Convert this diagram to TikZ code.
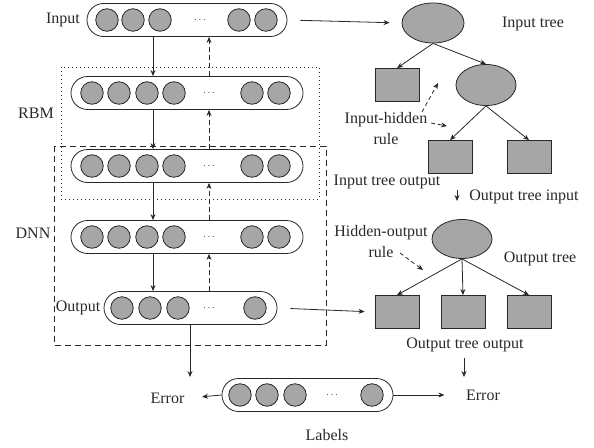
\documentclass[tikz,border=0pt]{standalone}
\usepackage{fontspec}
\setmainfont{Liberation Serif}
\usetikzlibrary{shapes.geometric,arrows.meta}
\definecolor{unitgray}{RGB}{166,166,166}
\definecolor{inkgray}{RGB}{40,40,40}

\begin{document}
\begin{tikzpicture}[x=1pt,y=-1pt,line width=0.8pt,draw=inkgray,
  every node/.style={font=\fontsize{16}{21}\selectfont,text=inkgray},
  >={Stealth[length=6pt,width=5pt]},
  layer/.style={draw,rounded corners=16.5pt,minimum height=33pt,inner sep=0pt},
  unit/.style={circle,draw,fill=unitgray,minimum size=22.5pt,inner sep=0pt},
  dots/.style={font=\fontsize{10}{12}\selectfont},
  treenode/.style={ellipse,draw,fill=unitgray,inner sep=0pt},
  leaf/.style={draw,fill=unitgray,minimum width=44pt,minimum height=33pt,inner sep=0pt},
  back/.style={dash pattern=on 5pt off 3pt},
  rulearrow/.style={->,dash pattern=on 4pt off 3pt}]
  \useasboundingbox (0,0) rectangle (594,447);

  % stacked layers
  \node[layer,minimum width=200pt] (in) at (187,20) {};
  \node[layer,minimum width=232pt] (h1) at (187,93) {};
  \node[layer,minimum width=232pt] (h2) at (187,166) {};
  \node[layer,minimum width=232pt] (h3) at (187,237) {};
  \node[layer,minimum width=173pt] (out) at (190.5,308) {};
  \node[layer,minimum width=171pt] (lab) at (307.5,395) {};

  \foreach \x [count=\i] in {107,133,160,239,266}
    \node[unit] (in-u\i) at (\x,20) {};
  \node[dots] (in-dots) at (200,20) {$\cdots$};
  \foreach \row/\y in {h1/93,h2/166,h3/237}{
    \foreach \x [count=\i] in {92,119,147,174,252,279}
      \node[unit] (\row-u\i) at (\x,\y) {};
    \node[dots] (\row-dots) at (209,\y) {$\cdots$};
  }
  \foreach \x [count=\i] in {122,150,178,255}
    \node[unit] (out-u\i) at (\x,308) {};
  \node[dots] (out-dots) at (209,308) {$\cdots$};
  \foreach \x [count=\i] in {240,267,295,372}
    \node[unit] (lab-u\i) at (\x,395) {};
  \node[dots] (lab-dots) at (332,395) {$\cdots$};

  \node (inlbl) at (63,20) {Input};
  \node (rbm) at (36,113) {RBM};
  \node (dnn) at (33,233) {DNN};
  \node (outlbl) at (78,308) {Output};
  \node (labels) at (327,435) {Labels};
  \node (errL) at (167.5,398) {Error};
  \node (errR) at (483,395) {Error};

  % RBM and DNN frames
  \draw[dash pattern=on 1pt off 3pt] (61,67) rectangle (319,199);
  \draw[dash pattern=on 6pt off 4pt] (54,146) rectangle (326,345);

  % forward and backward passes
  \coordinate (dn) at (153,0);
  \coordinate (up) at (209,0);
  \coordinate (err) at (190,0);
  \foreach \a/\b in {in/h1,h1/h2,h2/h3,h3/out}{
    \draw[->] (\a.south -| dn) -- (\b.north -| dn);
    \draw[->,back] (\b.north -| up) -- (\a.south -| up);
  }
  \draw[->] (out.south -| err) -- (190,377);
  \draw[->] (lab.west) -- (errL.east) [shorten >=14pt];
  \draw[->] (lab.east) -- (errR.west) [shorten >=18pt];

  % input tree
  \node[treenode,minimum width=62pt,minimum height=40pt] (t1) at (433,23) {};
  \node[leaf] (t1a) at (397,85) {};
  \node[treenode,minimum width=60pt,minimum height=41pt] (t2) at (486,85) {};
  \node[leaf] (t2a) at (450,157) {};
  \node[leaf] (t2b) at (529,157) {};
  \node (intree) at (533,24) {Input tree};
  \draw[->] (t1.south) -- (t1a.north);
  \draw[->] (t1.south) -- (t2.north);
  \draw[->] (t2.south) -- (t2a.north);
  \draw[->] (t2.south) -- (t2b.north);
  \draw[->] (in.east) -- (t1.west) [shorten <=13pt,shorten >=12pt];

  \node[align=center] (ihrule) at (386,129) {Input-hidden\\rule};
  \coordinate (ihup) at (438,83);
  \coordinate (ihright) at (447,126);
  \draw[rulearrow] (422,112) -- (ihup);
  \draw[rulearrow] (ihrule.east |- 0,123) -- (ihright);

  \node (itout) at (387,182) {Input tree output};
  \node (otin) at (524,197) {Output tree input};
  \draw[->] (457,190) -- (457,201);

  % output tree
  \node[treenode,minimum width=60pt,minimum height=39pt] (o1) at (462,239) {};
  \node[leaf] (o1a) at (397,312) {};
  \node[leaf] (o1b) at (463,312) {};
  \node[leaf] (o1c) at (529,312) {};
  \node (outtree) at (540,259) {Output tree};
  \foreach \c in {o1a,o1b,o1c}
    \draw[->] (o1.south) -- (\c.north);
  \draw[->] (out.east) -- (o1a.west) [shorten <=13pt,shorten >=10pt];

  \node[align=center] (horule) at (381,242) {Hidden-output\\rule};
  \coordinate (hodown) at (423,270);
  \draw[rulearrow] (400,253) -- (hodown);

  \node (otout) at (465,345) {Output tree output};
  \draw[->] (464,358) -- (464,377);
\end{tikzpicture}
\end{document}
